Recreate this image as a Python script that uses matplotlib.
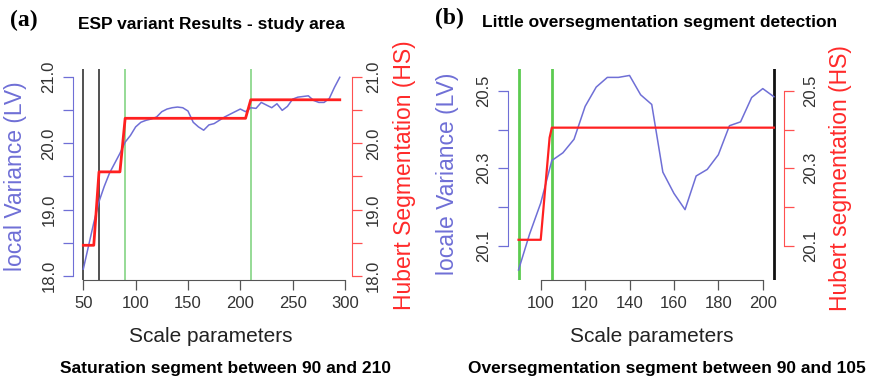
import matplotlib
matplotlib.use('Agg')
import matplotlib.pyplot as plt

plt.rcParams['font.family'] = 'Liberation Sans'

# panel (a) - ESP variant results
scale_a = [50, 55, 60, 65, 70, 75, 80, 85, 90, 95, 100, 105, 110, 115, 120, 125,
           130, 135, 140, 145, 150, 155, 160, 165, 170, 175, 180, 185, 190, 195,
           200, 205, 210, 215, 220, 225, 230, 235, 240, 245, 250, 255, 260, 265,
           270, 275, 280, 285, 290, 295]
lv_a = [18.10, 18.45, 18.80, 19.12, 19.35, 19.55, 19.70, 19.85, 20.02, 20.12,
        20.25, 20.32, 20.35, 20.37, 20.40, 20.48, 20.52, 20.54, 20.55, 20.54,
        20.49, 20.32, 20.25, 20.20, 20.28, 20.30, 20.35, 20.40, 20.44, 20.48,
        20.52, 20.48, 20.54, 20.53, 20.62, 20.58, 20.54, 20.60, 20.50, 20.56,
        20.67, 20.70, 20.71, 20.72, 20.65, 20.62, 20.62, 20.68, 20.85, 21.00]
hs_x_a = [50, 60, 65, 85, 90, 205, 210, 295]
hs_a = [18.46, 18.46, 19.57, 19.57, 20.38, 20.38, 20.66, 20.66]
black_a = [50, 65]
green_a = [90, 210]

# panel (b) - little oversegmentation
scale_b = [90, 95, 100, 105, 110, 115, 120, 125, 130, 135, 140, 145, 150, 155,
           160, 165, 170, 175, 180, 185, 190, 195, 200, 205]
lv_b = [20.037, 20.13, 20.21, 20.32, 20.34, 20.375, 20.46, 20.51, 20.535,
        20.535, 20.54, 20.49, 20.465, 20.29, 20.235, 20.193, 20.28, 20.297,
        20.335, 20.41, 20.42, 20.483, 20.506, 20.485]
hs_x_b = [90, 100, 104, 105, 205]
hs_b = [20.115, 20.115, 20.379, 20.405, 20.405]
black_b = [205]
green_b = [90, 105]

W, H = 877, 381
BLUE = '#6f6fd6'
RED = '#ff2020'
AX_RED = '#ff5050'
GRAY = '#333333'

fig = plt.figure(figsize=(W / 100, H / 100), dpi=100)


def fx(px):
    return px / W


def fy(py):
    return 1 - py / H


def make_panel(left, right, xlim, ylim, xticks, xbounds, yticks, ylabels,
               ybounds, lpad, rpad):
    ax = fig.add_axes([fx(left), fy(280), fx(right) - fx(left), fy(68.5) - fy(280)])
    ax.set_xlim(xlim)
    ax.set_ylim(ylim)
    ax.patch.set_visible(False)
    for s in ['top', 'right']:
        ax.spines[s].set_visible(False)
    ax.spines['left'].set_color(BLUE)
    ax.spines['left'].set_bounds(*ybounds)
    ax.spines['bottom'].set_color('#555555')
    ax.spines['bottom'].set_bounds(*xbounds)
    ax.set_xticks(xticks)
    ax.set_xticklabels([str(t) for t in xticks])
    ax.set_yticks(yticks)
    ax.set_yticklabels(ylabels)
    ax.tick_params(axis='x', length=7.2, width=0.9, color='#555555',
                   labelsize=12, labelcolor=GRAY, pad=4.5)
    ax.tick_params(axis='y', length=7.2, width=0.9, color=BLUE,
                   labelsize=12, labelcolor=GRAY, labelrotation=90, pad=lpad)
    for lab in ax.get_yticklabels():
        lab.set_va('center')

    tw = ax.twinx()
    tw.set_ylim(ylim)
    for s in ['top', 'left', 'bottom']:
        tw.spines[s].set_visible(False)
    tw.spines['right'].set_color(AX_RED)
    tw.spines['right'].set_bounds(*ybounds)
    tw.set_yticks(yticks)
    tw.set_yticklabels(ylabels)
    tw.tick_params(axis='y', length=7.2, width=0.9, color=AX_RED,
                   labelsize=12, labelcolor=GRAY, labelrotation=90, pad=rpad)
    for lab in tw.get_yticklabels():
        lab.set_va('center')
    return ax, tw


# ---- panel (a)
ax_a, tw_a = make_panel(73.3, 351.7, (40.45, 306.4), (17.935, 21.133),
                        [50, 100, 150, 200, 250, 300], (50, 300),
                        [18, 18.5, 19, 19.5, 20, 20.5, 21],
                        ['18.0', '', '19.0', '', '20.0', '', '21.0'], (18, 21),
                        5, 3)
for v in black_a:
    ax_a.axvline(v, color='#222222', lw=1.1)
for v in green_a:
    ax_a.axvline(v, color='#8ed88e', lw=1.3)
ax_a.plot(scale_a, lv_a, color=BLUE, lw=1.1)
tw_a.plot(hs_x_a, hs_a, color=RED, lw=2.0)

# ---- panel (b)
ax_b, tw_b = make_panel(508.3, 784.3, (85.4, 209.7), (20.011, 20.558),
                        [100, 120, 140, 160, 180, 200], (100, 200),
                        [20.1, 20.2, 20.3, 20.4, 20.5],
                        ['20.1', '', '20.3', '', '20.5'], (20.1, 20.5),
                        5, 6)
for v in black_b:
    ax_b.axvline(v, color='#111111', lw=2.0)
for v in green_b:
    ax_b.axvline(v, color='#5ccb50', lw=2.0)
ax_b.plot(scale_b, lv_b, color=BLUE, lw=1.1)
tw_b.plot(hs_x_b, hs_b, color=RED, lw=1.6)

# ---- texts
fig.text(fx(24), fy(20), '(a)', family='Liberation Serif', weight='bold',
         fontsize=17, ha='center', va='center')
fig.text(fx(449), fy(18), '(b)', family='Liberation Serif', weight='bold',
         fontsize=17, ha='center', va='center')
fig.text(fx(211), fy(24), 'ESP variant Results - study area', weight='bold',
         fontsize=12.5, ha='center', va='center')
fig.text(fx(660), fy(23), 'Little oversegmentation segment detection',
         weight='bold', fontsize=12.5, ha='center', va='center')

fig.text(fx(16), fy(176.5), 'local Variance (LV)', color=BLUE, fontsize=16.5,
         rotation=90, ha='center', va='center')
fig.text(fx(405), fy(175), 'Hubert Segmentation (HS)', color='#ff2a2a',
         fontsize=16.5, rotation=90, ha='center', va='center')
fig.text(fx(447.5), fy(173.5), 'locale Variance (LV)', color=BLUE,
         fontsize=16.5, rotation=90, ha='center', va='center')
fig.text(fx(840), fy(178), 'Hubert segmentation (HS)', color='#ff2a2a',
         fontsize=16.5, rotation=90, ha='center', va='center')

fig.text(fx(211), fy(336), 'Scale parameters', color='#222222', fontsize=15,
         ha='center', va='center')
fig.text(fx(652), fy(336), 'Scale parameters', color='#222222', fontsize=15,
         ha='center', va='center')
fig.text(fx(226), fy(368), 'Saturation segment between 90 and 210',
         weight='bold', fontsize=12.5, ha='center', va='center')
fig.text(fx(667), fy(368), 'Oversegmentation segment between 90 and 105',
         weight='bold', fontsize=12.5, ha='center', va='center')

fig.savefig('out.png', dpi=100)
